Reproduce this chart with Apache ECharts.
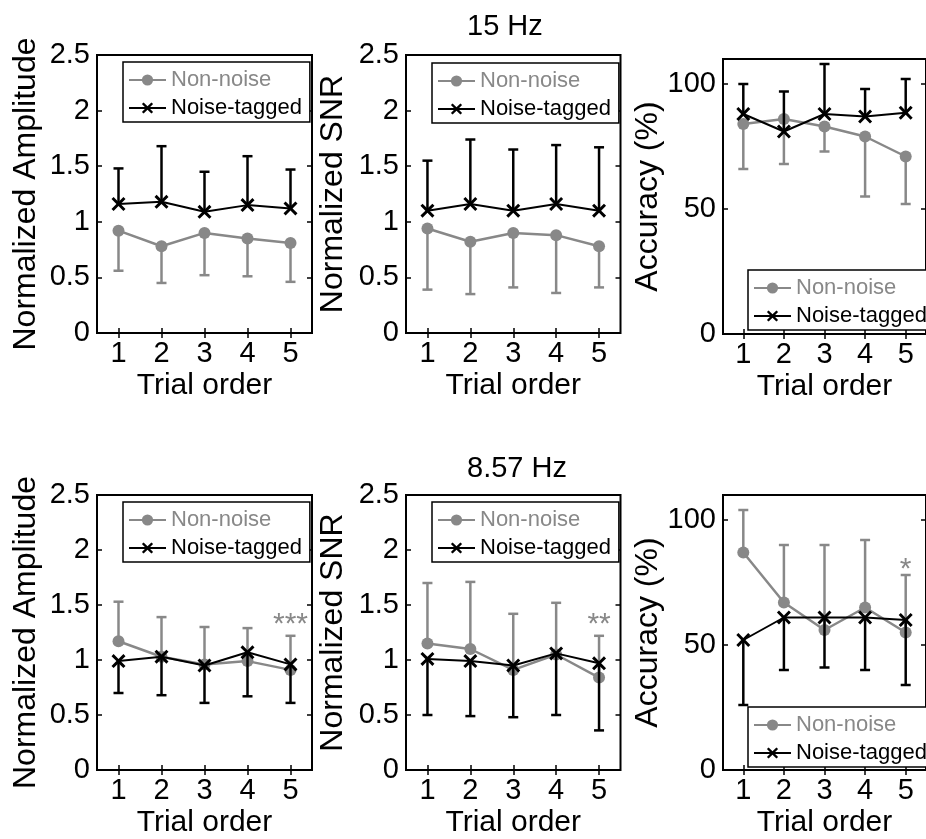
<!DOCTYPE html>
<html>
<head>
<meta charset="utf-8">
<script src="https://cdn.jsdelivr.net/npm/echarts@6/dist/echarts.min.js"></script>
<style>
  html, body { margin: 0; padding: 0; background: #fff; }
  #chart1 { width: 926px; height: 839px; }
</style>
</head>
<body>
<div id="chart1"></div>
<script>
// trial order categories
var trials = ['1', '2', '3', '4', '5'];

// 15 Hz - amplitude
var amp15Non = [0.92, 0.78, 0.90, 0.85, 0.81];
var amp15NonErr = [0.56, 0.45, 0.52, 0.51, 0.46];
var amp15Tag = [1.16, 1.18, 1.09, 1.15, 1.12];
var amp15TagErr = [1.48, 1.68, 1.45, 1.59, 1.47];
// 15 Hz - SNR
var snr15Non = [0.94, 0.82, 0.90, 0.88, 0.78];
var snr15NonErr = [0.39, 0.35, 0.41, 0.36, 0.41];
var snr15Tag = [1.10, 1.16, 1.10, 1.16, 1.10];
var snr15TagErr = [1.55, 1.74, 1.65, 1.69, 1.67];
// 15 Hz - accuracy
var acc15Non = [84, 86, 83, 79, 71];
var acc15NonErr = [66, 68, 73, 55, 52];
var acc15Tag = [88, 81, 88, 87, 88.5];
var acc15TagErr = [100, 97, 108, 98, 102];

// 8.57 Hz - amplitude
var amp857Non = [1.17, 1.03, 0.96, 0.99, 0.91];
var amp857NonErr = [1.53, 1.39, 1.30, 1.29, 1.22];
var amp857Tag = [0.99, 1.03, 0.95, 1.07, 0.96];
var amp857TagErr = [0.70, 0.68, 0.61, 0.67, 0.61];
// 8.57 Hz - SNR
var snr857Non = [1.15, 1.10, 0.91, 1.05, 0.84];
var snr857NonErr = [1.70, 1.71, 1.42, 1.52, 1.22];
var snr857Tag = [1.01, 0.99, 0.95, 1.06, 0.97];
var snr857TagErr = [0.50, 0.49, 0.48, 0.50, 0.36];
// 8.57 Hz - accuracy
var acc857Non = [87, 67, 56, 65, 55];
var acc857NonErr = [104, 90, 90, 92, 78];
var acc857Tag = [52, 61, 61, 61, 60];
var acc857TagErr = [26, 40, 41, 40, 34];

// significance marks: [trial index, y value, text]
var sigAmp857 = [[4, 1.32, '***']];
var sigSnr857 = [[4, 1.32, '**']];
var sigAcc857 = [[4, 80, '*']];

var FONT = 'Liberation Sans, Arial, Helvetica, sans-serif';
var GREY = '#888888';
var BLACK = '#000000';
var crossPath = 'path://M0,1.5L1.5,0L5,3.5L8.5,0L10,1.5L6.5,5L10,8.5L8.5,10L5,6.5L1.5,10L0,8.5L3.5,5Z';

var panels = [
    { left: 97, top: 55, width: 215, height: 278, max: 2.5, interval: 0.5, name: 'Normalized Amplitude', nameGap: 55,
      non: amp15Non, nonErr: amp15NonErr, tag: amp15Tag, tagErr: amp15TagErr, legend: [123, 62], sig: [] },
    { left: 406, top: 55, width: 214.5, height: 278, max: 2.5, interval: 0.5, name: 'Normalized SNR', nameGap: 57,
      non: snr15Non, nonErr: snr15NonErr, tag: snr15Tag, tagErr: snr15TagErr, legend: [432, 63], sig: [] },
    { left: 723, top: 59, width: 214, height: 275, max: 110, interval: 50, name: 'Accuracy (%)', nameGap: 58,
      non: acc15Non, nonErr: acc15NonErr, tag: acc15Tag, tagErr: acc15TagErr, legend: [748, 270], sig: [] },
    { left: 97, top: 495, width: 215, height: 278, max: 2.5, interval: 0.5, name: 'Normalized Amplitude', nameGap: 55,
      non: amp857Non, nonErr: amp857NonErr, tag: amp857Tag, tagErr: amp857TagErr, legend: [123, 502], sig: sigAmp857 },
    { left: 406, top: 495, width: 214.5, height: 278, max: 2.5, interval: 0.5, name: 'Normalized SNR', nameGap: 57,
      non: snr857Non, nonErr: snr857NonErr, tag: snr857Tag, tagErr: snr857TagErr, legend: [432, 502], sig: sigSnr857 },
    { left: 723, top: 495, width: 214, height: 278, max: 110, interval: 50, name: 'Accuracy (%)', nameGap: 58,
      non: acc857Non, nonErr: acc857NonErr, tag: acc857Tag, tagErr: acc857TagErr, legend: [748, 707], sig: sigAcc857 }
];

function errRender(params, api) {
    var x = api.value(0);
    var p0 = api.coord([x, api.value(1)]);
    var p1 = api.coord([x, api.value(2)]);
    var color = api.visual('color');
    return {
        type: 'group',
        children: [
            { type: 'line', shape: { x1: p0[0], y1: p0[1], x2: p1[0], y2: p1[1] }, style: { stroke: color, lineWidth: 2.5 } },
            { type: 'line', shape: { x1: p1[0] - 5, y1: p1[1], x2: p1[0] + 5, y2: p1[1] }, style: { stroke: color, lineWidth: 2.5 } }
        ]
    };
}

function errData(mean, end) {
    return mean.map(function (m, i) { return [i, m, end[i]]; });
}

var grids = [], xAxes = [], yAxes = [], legends = [], series = [];

panels.forEach(function (p, i) {
    grids.push({ left: p.left, top: p.top, width: p.width, height: p.height, show: true, borderColor: BLACK, borderWidth: 2, containLabel: false });

    var tick = { show: true, inside: true, length: 5, alignWithLabel: true, lineStyle: { color: BLACK, width: 1.5 } };
    xAxes.push({
        type: 'category', gridIndex: i, data: trials, boundaryGap: true, position: 'bottom',
        axisLine: { show: false }, axisTick: tick, splitLine: { show: false },
        axisLabel: { color: BLACK, fontSize: 29, fontFamily: FONT, margin: 6 },
        name: 'Trial order', nameLocation: 'middle', nameGap: 38,
        nameTextStyle: { color: BLACK, fontSize: 30, fontFamily: FONT }
    });
    xAxes.push({
        type: 'category', gridIndex: i, data: trials, boundaryGap: true, position: 'top',
        axisLine: { show: false }, axisTick: tick, axisLabel: { show: false }, splitLine: { show: false }
    });
    var ytick = { show: true, inside: true, length: 5, lineStyle: { color: BLACK, width: 1.5 } };
    yAxes.push({
        type: 'value', gridIndex: i, min: 0, max: p.max, interval: p.interval, position: 'left',
        axisLine: { show: false }, axisTick: ytick, splitLine: { show: false },
        axisLabel: { color: BLACK, fontSize: 29, fontFamily: FONT, margin: 7, showMaxLabel: p.max !== 110 },
        name: p.name, nameLocation: 'middle', nameGap: p.nameGap,
        nameTextStyle: { color: BLACK, fontSize: 32, fontFamily: FONT }
    });
    yAxes.push({
        type: 'value', gridIndex: i, min: 0, max: p.max, interval: p.interval, position: 'right',
        axisLine: { show: false }, axisTick: ytick, axisLabel: { show: false }, splitLine: { show: false }
    });

    legends.push({
        orient: 'vertical', left: p.legend[0], top: p.legend[1],
        backgroundColor: '#fff', borderColor: BLACK, borderWidth: 1.5, borderRadius: 0,
        padding: [7, 8, 3, 5], itemGap: 6, itemWidth: 37, itemHeight: 14,
        selectedMode: false,
        textStyle: { fontSize: 22, fontFamily: FONT },
        data: [
            { name: 'Non-noise', textStyle: { color: GREY } },
            { name: 'Noise-tagged', textStyle: { color: BLACK } }
        ]
    });

    var xi = 2 * i, yi = 2 * i;
    series.push({
        name: 'err-non', type: 'custom', xAxisIndex: xi, yAxisIndex: yi, renderItem: errRender,
        itemStyle: { color: GREY }, encode: { x: 0, y: [1, 2] }, data: errData(p.non, p.nonErr), z: 2
    });
    series.push({
        name: 'Non-noise', type: 'line', xAxisIndex: xi, yAxisIndex: yi, data: p.non,
        symbol: 'circle', symbolSize: 12, lineStyle: { color: GREY, width: 2.5 },
        itemStyle: { color: GREY }, z: 3
    });
    series.push({
        name: 'err-tag', type: 'custom', xAxisIndex: xi, yAxisIndex: yi, renderItem: errRender,
        itemStyle: { color: BLACK }, encode: { x: 0, y: [1, 2] }, data: errData(p.tag, p.tagErr), z: 4
    });
    series.push({
        name: 'Noise-tagged', type: 'line', xAxisIndex: xi, yAxisIndex: yi, data: p.tag,
        symbol: crossPath, symbolSize: 14, lineStyle: { color: BLACK, width: 2 },
        itemStyle: { color: BLACK }, z: 5
    });
    if (p.sig.length) {
        var marks = p.sig.map(function (s) { return s[2]; });
        series.push({
            name: 'sig', type: 'custom', xAxisIndex: xi, yAxisIndex: yi, z: 6,
            renderItem: function (params, api) {
                var pt = api.coord([api.value(0), api.value(1)]);
                return {
                    type: 'text', x: pt[0], y: pt[1],
                    style: { text: marks[params.dataIndex], fill: GREY, font: '30px ' + FONT, align: 'center', verticalAlign: 'middle' }
                };
            },
            encode: { x: 0, y: 1 },
            data: p.sig.map(function (s) { return [s[0], s[1]]; })
        });
    }
});

var dom = document.getElementById('chart1');
var myChart = echarts.init(dom);

myChart.setOption({
    animation: false,
    textStyle: { fontFamily: FONT },
    title: [
        { text: '15 Hz', left: 462, top: 7, textStyle: { fontSize: 29, fontWeight: 'normal', color: BLACK, fontFamily: FONT } },
        { text: '8.57 Hz', left: 462, top: 449, textStyle: { fontSize: 29, fontWeight: 'normal', color: BLACK, fontFamily: FONT } }
    ],
    grid: grids,
    xAxis: xAxes,
    yAxis: yAxes,
    legend: legends,
    series: series
});
</script>
</body>
</html>
